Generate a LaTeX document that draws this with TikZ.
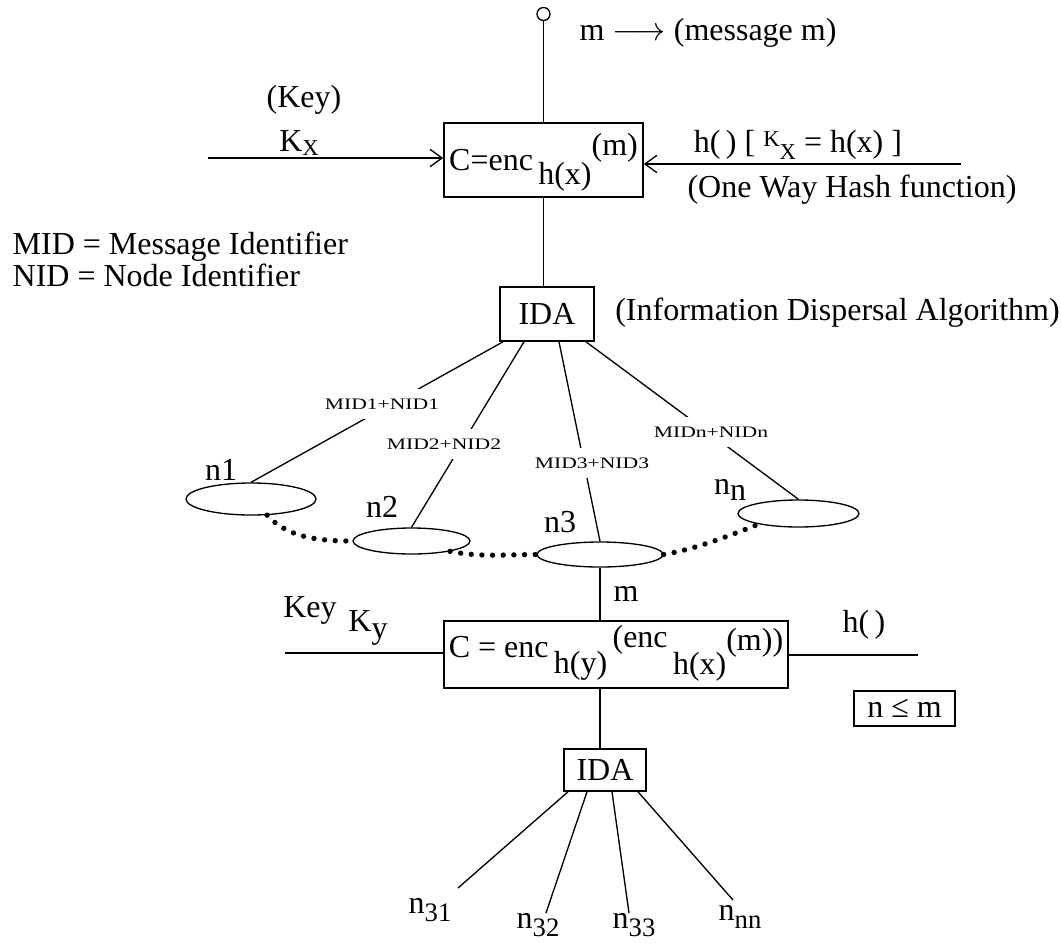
\documentclass[tikz,border=0pt]{standalone}
\usepackage{fontspec}
\setmainfont{Liberation Serif}
\usepackage{graphicx}
\usetikzlibrary{shapes.geometric,arrows.meta,calc}
\newcommand{\pxu}{0.75pt}
\newcommand{\bigf}{\fontsize{24}{28}\selectfont}
\newcommand{\subf}{\fontsize{17}{19}\selectfont}
\newcommand{\lowf}{\fontsize{20}{22}\selectfont}
\newcommand{\labf}{\fontsize{12}{14}\selectfont}
\newcommand{\wlab}[1]{\scalebox{1.35}[1]{\labf #1}}
\begin{document}
\begin{tikzpicture}[x=\pxu,y=-\pxu,font=\bigf,line width=1pt,
	encbox/.style={draw,line width=1.2pt,inner sep=0pt},
	oval/.style={draw,ellipse,inner sep=0pt},
	lbl/.style={inner sep=0pt},
	midlbl/.style={fill=white,inner xsep=2pt,inner ysep=7pt},
	dots/.style={line width=4pt,line cap=round,dash pattern=on 0pt off 8pt},
	arr/.style={-{Straight Barb[length=9pt,width=13pt]}}]
	\useasboundingbox (0,0) rectangle (1061,947);
	%%Phan tren: ma hoa lan 1
	\node[draw,circle,minimum size=13*\pxu,inner sep=0pt] (src) at (543.5,14) {};
	\node[lbl] (msg) at (708,33) {m $\longrightarrow$ (message m)};
	\node[encbox,minimum width=199*\pxu,minimum height=74*\pxu,text height=20pt,text depth=5pt] (enc1) at (543.5,160)
		{C=enc\,\raisebox{-11pt}{h(x)}\raisebox{11pt}{(m)}};
	\draw (src) -- (enc1);
	\node[lbl] (key) at (304,100) {(Key)};
	\node[lbl] (kx) at (299,143) {K\raisebox{-3pt}{\subf X}};
	\coordinate (kin) at (208,158);
	\draw[arr] (kin) -- (kin -| enc1.west);
	\coordinate (hin) at (961,164);
	\draw[arr] (hin) -- (hin -| enc1.east);
	\node[lbl] (hfun) at (798,145) {h(\,) [ \raisebox{5pt}{\subf K}\raisebox{-5pt}{\subf X} = h(x) ]};
	\node[lbl] (owh) at (852,190) {(One Way Hash function)};
	%%Chu thich
	\node[lbl,anchor=west] (mid) at (12,247) {MID = Message Identifier};
	\node[lbl,anchor=west] (nid) at (12,275) {NID = Node Identifier};
	%%IDA 1 va cac nut
	\node[encbox,minimum width=94*\pxu,minimum height=54*\pxu] (ida1) at (547,314) {IDA};
	\draw (enc1.south) -- (enc1.south |- ida1.north);
	\node[lbl] (idatxt) at (837.5,313) {(Information Dispersal Algorithm)};
	\foreach \o/\cx/\cy/\w/\h in {n1/251/499/130/32, n2/411.5/541/117/26, n3/600/554.5/126/25, nn/798.5/513.5/121/27}{%
		\node[oval,minimum width=\w*\pxu,minimum height=\h*\pxu] (\o) at (\cx,\cy) {};
	}
	\foreach \dx/\o in {-44/n1,-23/n2,12/n3,39/nn}
		\draw ([xshift=\dx*\pxu]ida1.south) -- (\o.north);
	\foreach \i/\x/\y in {1/382/404,2/444/444,3/592/463,n/711/432}
		\node[midlbl] (mid\i) at (\x,\y) {\wlab{MID\i+NID\i}};
	\node[lbl] (t1) at (221,470) {n1};
	\node[lbl] (t2) at (382,507) {n2};
	\node[lbl] (t3) at (560,522) {n3};
	\node[lbl] (tn) at (730,490) {n\raisebox{-4pt}{n}};
	%%Noi cham
	\draw[dots] (n1.-45) .. controls +(20,22) and +(-35,0) .. (n2.west);
	\draw[dots] (n2.-15) .. controls +(30,6) and +(-30,0) .. (n3.west);
	\draw[dots] (n3.east) .. controls +(30,-5) and +(-30,12) .. (nn.-165);
	%%Phan duoi: ma hoa lan 2
	\node[lbl] (m2) at (626,594) {m};
	\node[encbox,minimum width=344*\pxu,minimum height=67*\pxu,text height=12pt,text depth=8pt] (enc2) at (616,654.5)
		{C = enc\,\raisebox{-12.5pt}{h(y)}\,\raisebox{7.5pt}{(enc}\,\raisebox{-12.75pt}{h(x)}\raisebox{5pt}{(m))}};
	\draw (n3.south) -- (n3.south |- enc2.north);
	\node[lbl] (key2) at (310,610) {Key};
	\node[lbl] (ky) at (368,628) {K\raisebox{-5pt}{y}};
	\coordinate (kyin) at (285,653);
	\draw (kyin) -- (kyin -| enc2.west);
	\coordinate (hout) at (918,655);
	\draw (enc2.east |- hout) -- (hout);
	\node[lbl] (h2) at (864,625) {h(\,)};
	\node[encbox,minimum width=101*\pxu,minimum height=35*\pxu] (cond) at (904.5,708.5) {n ≤ m};
	%%IDA 2
	\node[encbox,minimum width=82*\pxu,minimum height=42*\pxu] (ida2) at (605,770) {IDA};
	\draw (n3.south |- enc2.south) -- (n3.south |- ida2.north);
	\foreach \dx/\ex/\ey/\s/\lx/\ly in {-37/458/888/31/430/910, -18/546/913/32/538/925, 7/629/913/33/634/925, 33/733/900/nn/740/917}{%
		\coordinate (e\s) at (\ex,\ey);
		\draw ([xshift=\dx*\pxu]ida2.south) -- (e\s);
		\node[lbl] (t\s) at (\lx,\ly) {n\raisebox{-6pt}{\lowf \s}};
	}
\end{tikzpicture}
\end{document}
